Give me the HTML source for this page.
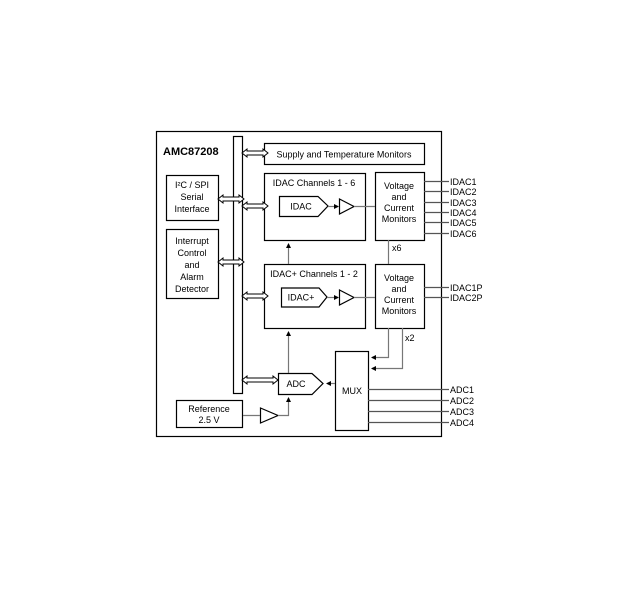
<!DOCTYPE html>
<html><head><style>
body{margin:0;background:#fff;}
svg text{font-family:"Liberation Sans",sans-serif;font-size:9px;fill:#000;}
</style></head><body>
<svg width="639" height="608" viewBox="0 0 639 608" xmlns="http://www.w3.org/2000/svg">
<defs>
<marker id="a" markerWidth="5" markerHeight="5" refX="4" refY="2.5" orient="auto" markerUnits="userSpaceOnUse"><path d="M0,0L5,2.5L0,5z" fill="#000"/></marker>
<g id="dbl"><path d="M0,4 L5,0 L5,2 L21,2 L21,0 L26,4 L21,8 L21,6 L5,6 L5,8 Z" fill="#fff" stroke="#000" stroke-width="1"/></g>
</defs>
<g fill="none" stroke="#000" stroke-width="1.2">
<rect x="156.5" y="131.5" width="285" height="305"/>
<rect x="233.5" y="136.5" width="9" height="257"/>
<rect x="264.5" y="143.5" width="160" height="21"/>
<rect x="264.5" y="173.5" width="101" height="67"/>
<rect x="166.5" y="175.5" width="52" height="45"/>
<rect x="166.5" y="229.5" width="52" height="69"/>
<rect x="375.5" y="172.5" width="49" height="68"/>
<rect x="264.5" y="264.5" width="101" height="64"/>
<rect x="375.5" y="264.5" width="49" height="64"/>
<rect x="335.5" y="351.5" width="33" height="79"/>
<rect x="176.5" y="400.5" width="66" height="27"/>
<path d="M279.5,196.5 H318 L328,206 L318,216.5 H279.5 Z"/>
<path d="M339.5,199 L354,206.5 L339.5,214 Z"/>
<path d="M281.5,288 H319 L327,297 L319,307 H281.5 Z"/>
<path d="M339.5,290 L354,297.5 L339.5,305 Z"/>
<path d="M278.5,373.5 H312 L323,383.5 L312,394.5 H278.5 Z"/>
<path d="M260.5,408 L278,415.5 L260.5,423 Z"/>
</g>
<g stroke="#777" stroke-width="1.2" fill="none">
<line x1="243" y1="415.5" x2="260" y2="415.5"/>
<line x1="354" y1="206.5" x2="375" y2="206.5"/>
<line x1="354" y1="297.5" x2="375" y2="297.5"/>
<line x1="388.5" y1="240" x2="388.5" y2="264"/>
<line x1="288.5" y1="264" x2="288.5" y2="244" marker-end="url(#a)"/>
<line x1="288.5" y1="373" x2="288.5" y2="332" marker-end="url(#a)"/>
<path d="M388.5,328 V357.5 H372" marker-end="url(#a)"/>
<path d="M402.5,328 V368.5 H372" marker-end="url(#a)"/>
<line x1="335" y1="383.5" x2="327" y2="383.5" marker-end="url(#a)"/>
<path d="M278,415.5 H288.5 V398" marker-end="url(#a)"/>
<line x1="328" y1="206.5" x2="338" y2="206.5" marker-end="url(#a)"/>
<line x1="327" y1="297.5" x2="338" y2="297.5" marker-end="url(#a)"/>
</g>
<g stroke="#555" stroke-width="1.2">
<line x1="424" y1="181.5" x2="449" y2="181.5"/>
<line x1="424" y1="191.5" x2="449" y2="191.5"/>
<line x1="424" y1="202.5" x2="449" y2="202.5"/>
<line x1="424" y1="212.5" x2="449" y2="212.5"/>
<line x1="424" y1="222.5" x2="449" y2="222.5"/>
<line x1="424" y1="233.5" x2="449" y2="233.5"/>
<line x1="424" y1="287.5" x2="449" y2="287.5"/>
<line x1="424" y1="297.5" x2="449" y2="297.5"/>
<line x1="368" y1="389.5" x2="449" y2="389.5"/>
<line x1="368" y1="400.5" x2="449" y2="400.5"/>
<line x1="368" y1="411.5" x2="449" y2="411.5"/>
<line x1="368" y1="422.5" x2="449" y2="422.5"/>
</g>
<use href="#dbl" x="242" y="149"/>
<use href="#dbl" x="242" y="202"/>
<use href="#dbl" x="242" y="292"/>
<use href="#dbl" x="218" y="195"/>
<use href="#dbl" x="218" y="258"/>
<path d="M242,380 L247,376 L247,378 L273,378 L273,376 L278,380 L273,384 L273,382 L247,382 L247,384 Z" fill="#fff" stroke="#000"/>
<text x="163" y="155" style="font-weight:bold;font-size:11px">AMC87208</text>
<text x="344" y="157.5" text-anchor="middle">Supply and Temperature Monitors</text>
<text x="314" y="186" text-anchor="middle">IDAC Channels 1 - 6</text>
<text x="314" y="277" text-anchor="middle">IDAC+ Channels 1 - 2</text>
<text x="301" y="209.5" text-anchor="middle">IDAC</text>
<text x="301" y="300.5" text-anchor="middle">IDAC+</text>
<text x="296" y="387" text-anchor="middle">ADC</text>
<text x="352" y="394" text-anchor="middle">MUX</text>
<text x="192" y="188" text-anchor="middle">I²C / SPI</text>
<text x="192" y="200" text-anchor="middle">Serial</text>
<text x="192" y="212" text-anchor="middle">Interface</text>
<text x="192" y="244" text-anchor="middle">Interrupt</text>
<text x="192" y="256" text-anchor="middle">Control</text>
<text x="192" y="268" text-anchor="middle">and</text>
<text x="192" y="280" text-anchor="middle">Alarm</text>
<text x="192" y="292" text-anchor="middle">Detector</text>
<text x="399" y="189" text-anchor="middle">Voltage</text>
<text x="399" y="200" text-anchor="middle">and</text>
<text x="399" y="211" text-anchor="middle">Current</text>
<text x="399" y="222" text-anchor="middle">Monitors</text>
<text x="399" y="281" text-anchor="middle">Voltage</text>
<text x="399" y="292" text-anchor="middle">and</text>
<text x="399" y="303" text-anchor="middle">Current</text>
<text x="399" y="314" text-anchor="middle">Monitors</text>
<text x="392" y="251">x6</text>
<text x="405" y="341">x2</text>
<text x="209" y="412" text-anchor="middle">Reference</text>
<text x="209" y="423" text-anchor="middle">2.5 V</text>
<text x="450" y="185">IDAC1</text>
<text x="450" y="195">IDAC2</text>
<text x="450" y="206">IDAC3</text>
<text x="450" y="216">IDAC4</text>
<text x="450" y="226">IDAC5</text>
<text x="450" y="237">IDAC6</text>
<text x="450" y="291">IDAC1P</text>
<text x="450" y="301">IDAC2P</text>
<text x="450" y="393">ADC1</text>
<text x="450" y="404">ADC2</text>
<text x="450" y="415">ADC3</text>
<text x="450" y="426">ADC4</text>
</svg>
</body></html>
